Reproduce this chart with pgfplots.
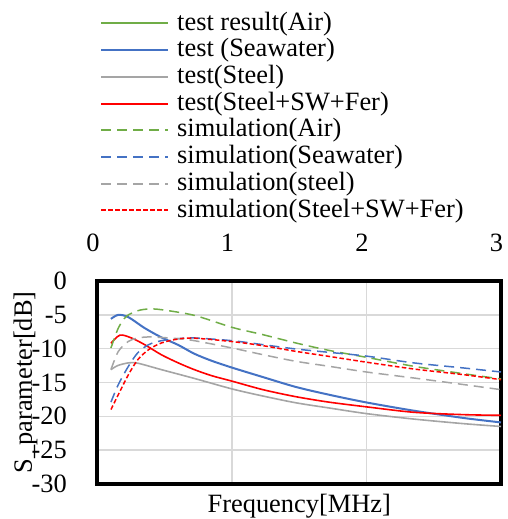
\documentclass[border=0pt]{standalone}
\usepackage{fontspec}
\setmainfont{Liberation Serif}
\usepackage{pgfplots}
\pgfplotsset{compat=1.18}
\definecolor{cgreen}{HTML}{70AD47}
\definecolor{cblue}{HTML}{4472C4}
\definecolor{cgray}{HTML}{A5A5A5}
\definecolor{cred}{HTML}{FF0000}
\definecolor{cgrid}{HTML}{D9D9D9}
\newcommand{\bigf}{\fontsize{26.4}{31}\selectfont}
\pgfplotsset{
  tgreen/.style={draw=cgreen, line width=1.6pt},
  tblue/.style={draw=cblue, line width=2pt},
  tgray/.style={draw=cgray, line width=1.6pt},
  tred/.style={draw=cred, line width=1.6pt},
  sgreen/.style={draw=cgreen, line width=1.5pt, dash pattern=on 10pt off 6pt},
  sblue/.style={draw=cblue, line width=1.5pt, dash pattern=on 10pt off 6pt},
  sgray/.style={draw=cgray, line width=1.5pt, dash pattern=on 10pt off 6pt},
  sred/.style={draw=cred, line width=1.5pt, dash pattern=on 4.5pt off 2.5pt},
}
\begin{document}
\begin{tikzpicture}
\path[use as bounding box] (-97.5pt,-35pt) rectangle (410.5pt,484pt);
\begin{axis}[
  at={(0pt,0pt)}, anchor=south west,
  scale only axis, width=403.5pt, height=203pt,
  xmin=0, xmax=3, ymin=-30, ymax=0,
  xtick={0,1,2,3}, xticklabels={0,1,2,3},
  ytick={-30,-25,-20,-15,-10,-5,0},
  yticklabels={-30,-25,-20,-15,-10,-5,0},
  xticklabel pos=upper,
  major tick length=0pt,
  grid=major, major grid style={cgrid, line width=1.4pt},
  axis line style={black, line width=4pt, line cap=rect},
  xticklabel style={font=\bigf, inner sep=0pt, anchor=south, yshift=29pt, xshift=-4.5pt},
  yticklabel style={font=\bigf, inner sep=0pt, anchor=east, xshift=-30.5pt},
  xlabel={Frequency[MHz]},
  xlabel style={font=\bigf, inner sep=0pt, at={(axis description cs:0.5,0)}, anchor=base, yshift=-28pt},
  ylabel={S\_parameter[dB]},
  ylabel style={font=\bigf, inner sep=0pt, at={([xshift=-65.5pt]axis description cs:0,0.5)}, anchor=base},
  legend cell align=left,
  legend image code/.code={\path[#1, line width=2pt] (0pt,0pt) -- (67pt,0pt);},
  legend style={font=\bigf, draw=none, fill=none, inner sep=0pt, anchor=north west,
    at={([xshift=2.5pt,yshift=269.5pt]axis description cs:0,1)},
    row sep=3.2pt, column sep=8pt,
    nodes={inner sep=0pt, text height=18.5pt, text depth=5pt}},
]
\addlegendimage{tgreen}
\addlegendentry{test result(Air)}
\addlegendimage{tblue}
\addlegendentry{test (Seawater)}
\addlegendimage{tgray}
\addlegendentry{test(Steel)}
\addlegendimage{tred}
\addlegendentry{test(Steel+SW+Fer)}
\addlegendimage{sgreen}
\addlegendentry{simulation(Air)}
\addlegendimage{sblue}
\addlegendentry{simulation(Seawater)}
\addlegendimage{sgray}
\addlegendentry{simulation(steel)}
\addlegendimage{sred}
\addlegendentry{simulation(Steel+SW+Fer)}

\addplot[tblue, smooth, forget plot] coordinates {
(0.1,-5.6)(0.155,-5.0)(0.23,-5.35)(0.35,-6.95)(0.475,-8.33)(0.6,-9.45)(0.72,-10.75)(0.85,-11.8)(1.0,-12.8)(1.23,-14.2)(1.475,-15.66)(1.72,-16.8)(2.0,-17.95)(2.35,-19.16)(2.72,-20.24)(3.0,-20.9)};

\addplot[tgray, smooth, forget plot] coordinates {
(0.1,-13.1)(0.15,-12.5)(0.23,-12.1)(0.3,-12.15)(0.475,-13.1)(0.72,-14.4)(1.0,-15.95)(1.23,-17.0)(1.475,-18.0)(1.72,-18.76)(2.0,-19.6)(2.35,-20.4)(2.72,-21.08)(3.0,-21.5)};

\addplot[tred, smooth, forget plot] coordinates {
(0.1,-9.2)(0.167,-8.0)(0.25,-8.4)(0.35,-9.4)(0.475,-10.9)(0.6,-12.1)(0.72,-13.1)(0.85,-14.0)(1.0,-14.8)(1.23,-16.06)(1.475,-17.1)(1.72,-17.9)(2.0,-18.6)(2.35,-19.4)(2.72,-19.75)(3.0,-19.85)};

\addplot[sgreen, smooth, forget plot] coordinates {
(0.1,-9.9)(0.155,-6.95)(0.215,-5.22)(0.3,-4.39)(0.38,-4.14)(0.475,-4.24)(0.72,-5.08)(1.0,-6.85)(1.23,-7.93)(1.475,-9.16)(1.72,-10.25)(2.0,-11.28)(2.35,-12.6)(2.72,-13.7)(3.0,-14.48)};

\addplot[sblue, smooth, forget plot] coordinates {
(0.1,-17.9)(0.155,-15.3)(0.23,-12.6)(0.3,-10.6)(0.38,-9.41)(0.475,-8.82)(0.6,-8.52)(0.72,-8.42)(1.0,-8.82)(1.23,-9.41)(1.475,-10.05)(1.72,-10.54)(2.0,-11.1)(2.35,-12.1)(2.72,-12.85)(3.0,-13.45)};

\addplot[sgray, smooth, forget plot] coordinates {
(0.1,-13.1)(0.155,-10.4)(0.23,-8.92)(0.3,-8.42)(0.4,-8.27)(0.6,-8.52)(0.72,-8.82)(1.0,-9.9)(1.23,-10.89)(1.475,-11.87)(1.72,-12.6)(2.0,-13.45)(2.35,-14.33)(2.72,-15.3)(3.0,-16.06)};

\addplot[sred, smooth, forget plot] coordinates {
(0.1,-19.0)(0.167,-16.3)(0.23,-13.84)(0.3,-11.62)(0.38,-10.15)(0.475,-9.16)(0.6,-8.57)(0.72,-8.45)(1.0,-8.95)(1.23,-9.56)(1.475,-10.4)(1.72,-11.14)(2.0,-12.0)(2.35,-13.0)(2.72,-13.84)(3.0,-14.58)};
\end{axis}
\end{tikzpicture}
\end{document}
